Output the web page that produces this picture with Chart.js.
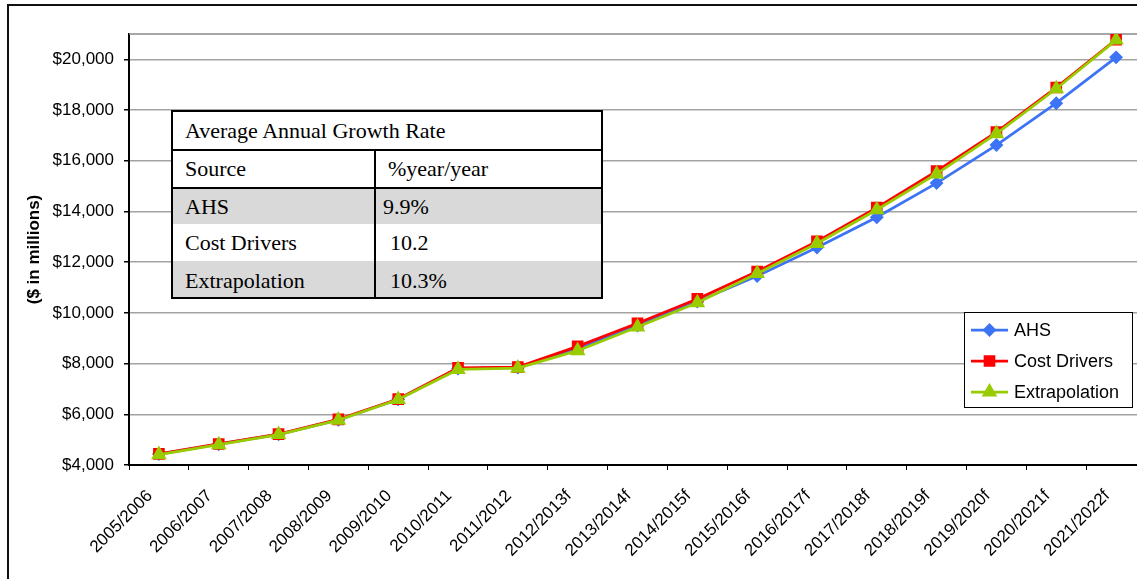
<!DOCTYPE html>
<html>
<head>
<meta charset="utf-8">
<script src="https://cdn.jsdelivr.net/npm/chart.js@4.4.1/dist/chart.umd.min.js"></script>
<style>
  html, body { margin: 0; padding: 0; background: #fff; overflow: hidden; }
  #frame { position: absolute; left: 7px; top: 4px; width: 1200px; height: 700px; border: 2px solid #111; }
  #costChart { position: absolute; left: 0; top: 0; }
  #growth {
    position: absolute; left: 171px; top: 110px; width: 432px;
    border-collapse: collapse; border: 2px solid #000; background: #fff;
    font-family: "Liberation Serif", "Times New Roman", serif; font-size: 22px; color: #000;
  }
  #growth td { padding: 0 0 0 12px; vertical-align: middle; white-space: nowrap; }
  #growth tr.shade td { background: #d9d9d9; }
  #growth td.src { width: 189px; border-right: 2px solid #000; }
</style>
</head>
<body>
<div id="frame"></div>
<canvas id="costChart" width="1190" height="600"></canvas>

<table id="growth">
  <tr style="height:39px; border-bottom:2px solid #000"><td colspan="2">Average Annual Growth Rate</td></tr>
  <tr style="height:38px; border-bottom:2px solid #000"><td class="src">Source</td><td>%year/year</td></tr>
  <tr class="shade" style="height:36px"><td class="src">AHS</td><td style="padding-left:7px">9.9%</td></tr>
  <tr style="height:37px"><td class="src">Cost Drivers</td><td style="padding-left:14px">10.2</td></tr>
  <tr class="shade" style="height:37px"><td class="src" style="padding-top:3px">Extrapolation</td><td style="padding-left:14px; padding-top:3px">10.3%</td></tr>
</table>

<script>
// fiscal years, "f" = forecast
const years = ['2005/2006', '2006/2007', '2007/2008', '2008/2009', '2009/2010', '2010/2011',
  '2011/2012', '2012/2013f', '2013/2014f', '2014/2015f', '2015/2016f', '2016/2017f',
  '2017/2018f', '2018/2019f', '2019/2020f', '2020/2021f', '2021/2022f'];

// $ in millions
const ahs = [4430, 4820, 5210, 5780, 6590, 7800, 7840, 8600, 9500, 10450,
  11450, 12580, 13770, 15120, 16620, 18270, 20080];
const costDrivers = [4440, 4830, 5220, 5800, 6600, 7830, 7860, 8680, 9590, 10550,
  11630, 12820, 14150, 15590, 17130, 18890, 20780];
const extrapolation = [4410, 4800, 5200, 5770, 6580, 7770, 7820, 8510, 9440, 10400,
  11550, 12740, 14070, 15480, 17070, 18840, 20760];

// value axis
const yTicks = [4000, 6000, 8000, 10000, 12000, 14000, 16000, 18000, 20000];
const yMin = 4000;
const yMax = 21000;

Chart.defaults.font.family = '"Liberation Sans", Arial, sans-serif';
Chart.defaults.color = '#000';

function money(v) {
  return '$' + Number(v).toLocaleString('en-US');
}

// thin grey line along the top of the plot area
const plotFrame = {
  id: 'plotFrame',
  beforeDatasetsDraw(chart) {
    const { ctx, chartArea } = chart;
    ctx.save();
    ctx.strokeStyle = '#8a8a8a';
    ctx.lineWidth = 1.5;
    ctx.beginPath();
    ctx.moveTo(chartArea.left, chartArea.top);
    ctx.lineTo(chartArea.right, chartArea.top);
    ctx.stroke();
    ctx.restore();
  }
};

// boxed legend sitting inside the plot, line + marker per series
const boxLegend = {
  id: 'boxLegend',
  afterDraw(chart) {
    const ctx = chart.ctx;
    const left = 964, top = 312, w = 168, h = 95;
    ctx.save();
    ctx.fillStyle = '#fff';
    ctx.fillRect(left, top, w, h);
    ctx.strokeStyle = '#000';
    ctx.lineWidth = 1;
    ctx.strokeRect(left + 0.5, top + 0.5, w, h);
    chart.data.datasets.forEach((ds, i) => {
      const y = top + 18 + i * 31;
      ctx.strokeStyle = ds.borderColor;
      ctx.fillStyle = ds.borderColor;
      ctx.lineWidth = ds.borderWidth;
      ctx.beginPath();
      ctx.moveTo(left + 7, y);
      ctx.lineTo(left + 44, y);
      ctx.stroke();
      if (Chart.helpers && Chart.helpers.drawPoint) {
        Chart.helpers.drawPoint(ctx, { pointStyle: ds.pointStyle, radius: ds.pointRadius, borderWidth: 1, rotation: 0 }, left + 25.5, y);
      }
      ctx.fillStyle = '#000';
      ctx.font = '18px "Liberation Sans", Arial, sans-serif';
      ctx.textBaseline = 'middle';
      ctx.textAlign = 'left';
      ctx.fillText(ds.label, left + 50, y + 1);
    });
    ctx.restore();
  }
};

const ctx = document.getElementById('costChart').getContext('2d');
new Chart(ctx, {
  type: 'line',
  data: {
    labels: years,
    datasets: [
      {
        label: 'AHS',
        data: ahs,
        borderColor: '#3d74f5',
        backgroundColor: '#3d74f5',
        borderWidth: 2.75,
        pointStyle: 'rectRot',
        pointRadius: 5,
        order: 2
      },
      {
        label: 'Cost Drivers',
        data: costDrivers,
        borderColor: '#ff0000',
        backgroundColor: '#ff0000',
        borderWidth: 2.75,
        pointStyle: 'rect',
        pointRadius: 6.3,
        order: 1
      },
      {
        label: 'Extrapolation',
        data: extrapolation,
        borderColor: '#99cc00',
        backgroundColor: '#99cc00',
        borderWidth: 2.75,
        pointStyle: 'triangle',
        pointRadius: 6.3,
        order: 0
      }
    ]
  },
  options: {
    responsive: false,
    animation: false,
    layout: { padding: { top: 34, right: 44, bottom: 0, left: 0 } },
    elements: {
      line: { tension: 0 },
      point: { borderWidth: 1, hoverRadius: 6 }
    },
    plugins: {
      legend: { display: false },
      tooltip: { enabled: false }
    },
    scales: {
      x: {
        type: 'category',
        offset: true,
        afterFit(scale) { scale.height = 135; },
        grid: { offset: true, drawOnChartArea: false, color: '#000', tickLength: 5 },
        border: { color: '#000', width: 2 },
        ticks: {
          autoSkip: false,
          minRotation: 45,
          maxRotation: 45,
          labelOffset: -9,
          padding: 16,
          font: { size: 17 },
          color: '#000'
        }
      },
      y: {
        min: yMin,
        max: yMax,
        afterBuildTicks(scale) { scale.ticks = yTicks.map(v => ({ value: v })); },
        afterFit(scale) { scale.width = 129; },
        grid: { color: '#a3a3a3', lineWidth: 1.5, tickColor: '#000', tickLength: 5 },
        border: { color: '#000', width: 2 },
        ticks: {
          padding: 10,
          font: { size: 17 },
          color: '#000',
          callback: (v) => money(v)
        },
        title: {
          display: true,
          text: '($ in millions)',
          font: { size: 17, weight: 'bold' },
          color: '#000',
          padding: { top: 24, bottom: 0 }
        }
      }
    }
  },
  plugins: [plotFrame, boxLegend]
});
</script>
</body>
</html>
